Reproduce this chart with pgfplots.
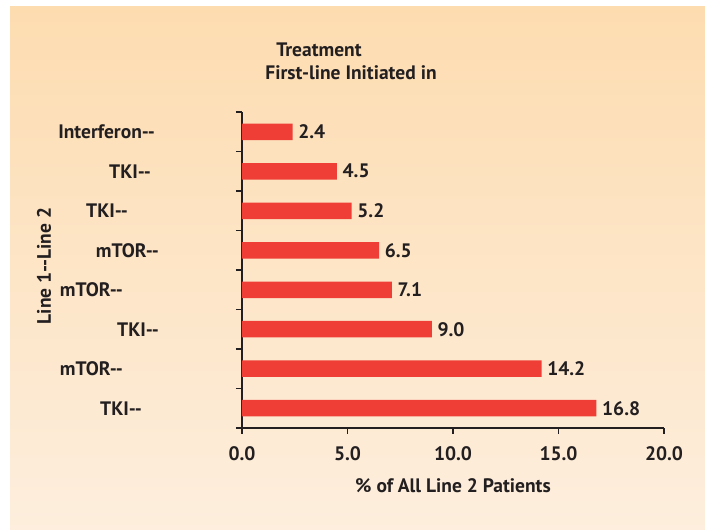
\documentclass[border=0pt]{standalone}
\usepackage{fontspec}
\setmainfont{PT Sans}
\usepackage{pgfplots}
\pgfplotsset{compat=1.18}
\definecolor{barred}{HTML}{EF3E36}
\definecolor{txt}{HTML}{231F20}
\definecolor{bgtop}{HTML}{FDDCB0}
\definecolor{bgbot}{HTML}{FDEEDD}
\newcommand{\F}{\fontsize{19.5}{23}\selectfont\bfseries}
\newcommand{\gap}[1]{\rule{#1}{0pt}}
\begin{document}
\begin{tikzpicture}[x=1pt,y=1pt]
\fill[white] (0,0) rectangle (705,530);
\shade[top color=bgtop, bottom color=bgbot] (10,0) rectangle (705,523);
\begin{axis}[
  at={(242pt,102pt)}, anchor=south west,
  scale only axis, width=422pt, height=316pt,
  xmin=0, xmax=20, ymin=0.5, ymax=8.5,
  axis x line=bottom, axis y line=left,
  axis line style={-, line width=1.6pt, draw=txt},
  every tick/.style={line width=1.6pt, draw=txt},
  tick align=outside,
  xtick={0,5,...,20},
  xticklabel style={font=\F, text=txt, yshift=-9pt,
    /pgf/number format/fixed, /pgf/number format/fixed zerofill, /pgf/number format/precision=1, /pgf/number format/assume math mode=true},
  major tick length=6pt,
  ytick={0.5,1.5,...,8.5},
  yticklabels={},
  extra y ticks={1,2,3,4,5,6,7,8},
  extra y tick labels={TKI-{}-\gap{17pt}, mTOR-{}-\gap{36pt}, TKI-{}-, mTOR-{}-\gap{36pt}, mTOR-{}-, TKI-{}-\gap{31pt}, TKI-{}-\gap{8pt}, Interferon-{}-\gap{4pt}},
  extra y tick style={tick style={draw=none}, yticklabel style={font=\F, text=txt, anchor=east, inner sep=0pt, xshift=-77pt}},
  xlabel={\% of All Line 2 Patients},
  xlabel style={font=\F, text=txt, at={(axis description cs:0.5,0)}, anchor=center, yshift=-58pt},
  ylabel={Line 1-{}-Line 2},
  ylabel style={font=\F, text=txt, at={(axis description cs:-0.469,0.513)}, anchor=center},
  xbar, bar width=16.5pt,
  nodes near coords,
  nodes near coords style={font=\F, text=txt, anchor=west, inner sep=5.5pt,
    /pgf/number format/fixed, /pgf/number format/fixed zerofill, /pgf/number format/precision=1, /pgf/number format/assume math mode=true},
  clip=false,
]
\addplot[fill=barred, draw=none] coordinates {
  (16.8,1) (14.2,2) (9.0,3) (7.1,4) (6.5,5) (5.2,6) (4.5,7) (2.4,8)
};
\end{axis}
\node[font=\F, text=txt] at (319,480.5) {Treatment};
\node[font=\F, text=txt] at (351,457) {First-line Initiated in};
\end{tikzpicture}
\end{document}
